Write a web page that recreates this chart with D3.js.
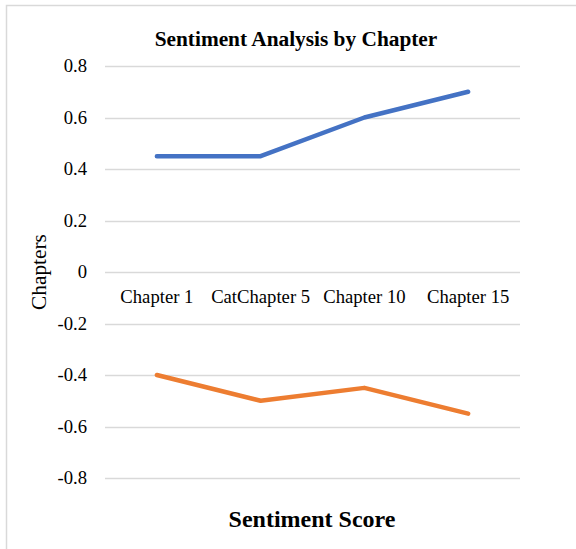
<!DOCTYPE html>
<html>
<head>
<meta charset="utf-8">
<script src="https://cdn.jsdelivr.net/npm/d3@7"></script>
<style>
html,body{margin:0;padding:0;background:#fff;}
svg{display:block;}
</style>
</head>
<body>
<script>
const categories = ["Chapter 1", "CatChapter 5", "Chapter 10", "Chapter 15"];
const seriesPositive = [0.45, 0.45, 0.6, 0.7];
const seriesNegative = [-0.4, -0.5, -0.45, -0.55];
const yTicks = [0.8, 0.6, 0.4, 0.2, 0, -0.2, -0.4, -0.6, -0.8];
const titleText = "Sentiment Analysis by Chapter";
const xTitleText = "Sentiment Score";
const yTitleText = "Chapters";

const W = 576, H = 549;
const svg = d3.select("body").append("svg").attr("width", W).attr("height", H);
const font = "'Liberation Serif','Times New Roman',serif";

// outer chart border
svg.append("rect").attr("x", 6.5).attr("y", 5.5).attr("width", 600).attr("height", 600)
  .attr("fill", "none").attr("stroke", "#d9d9d9").attr("stroke-width", 1.5);

const plotL = 105, plotR = 520, plotT = 66, plotB = 478;
const x = d3.scaleBand().domain(categories).range([plotL, plotR]).padding(0);
const y = d3.scaleLinear().domain([-0.8, 0.8]).range([plotB, plotT]);

// gridlines
svg.append("g").selectAll("line").data(yTicks).join("line")
  .attr("x1", plotL).attr("x2", plotR)
  .attr("y1", d => Math.round(y(d)) + 0.5).attr("y2", d => Math.round(y(d)) + 0.5)
  .attr("stroke", "#d9d9d9").attr("stroke-width", 1.3);

// y tick labels
const yAxis = d3.axisLeft(y).tickValues(yTicks).tickSize(0).tickPadding(0)
  .tickFormat(d => d === 0 ? "0" : d.toFixed(1));
const yg = svg.append("g").attr("transform", `translate(87,0)`).call(yAxis);
yg.select(".domain").remove();
yg.selectAll("text").attr("font-family", font).attr("font-size", 18.67).attr("fill", "#000");

// category labels placed at zero line
const xAxis = d3.axisBottom(x).tickSize(0).tickPadding(0);
const xg = svg.append("g").attr("transform", `translate(0,${y(0) + 17.5})`).call(xAxis);
xg.select(".domain").remove();
xg.selectAll("text").attr("font-family", font).attr("font-size", 18.67).attr("fill", "#000");

const line = d3.line().x((d, i) => x(categories[i]) + x.bandwidth() / 2).y(d => y(d));

svg.append("path").datum(seriesPositive).attr("d", line)
  .attr("fill", "none").attr("stroke", "#4472C4").attr("stroke-width", 4.5)
  .attr("stroke-linecap", "round").attr("stroke-linejoin", "round");
svg.append("path").datum(seriesNegative).attr("d", line)
  .attr("fill", "none").attr("stroke", "#ED7D31").attr("stroke-width", 4.5)
  .attr("stroke-linecap", "round").attr("stroke-linejoin", "round");

// title
svg.append("text").attr("x", 296).attr("y", 46).attr("text-anchor", "middle")
  .attr("font-family", font).attr("font-weight", "bold").attr("font-size", 21.33)
  .attr("fill", "#000").text(titleText);

// x title
svg.append("text").attr("x", 312).attr("y", 527).attr("text-anchor", "middle")
  .attr("font-family", font).attr("font-weight", "bold").attr("font-size", 24)
  .attr("fill", "#000").text(xTitleText);

// y title
svg.append("text").attr("transform", "translate(46,272) rotate(-90)").attr("text-anchor", "middle")
  .attr("font-family", font).attr("font-size", 21.33)
  .attr("fill", "#000").text(yTitleText);
</script>
</body>
</html>
